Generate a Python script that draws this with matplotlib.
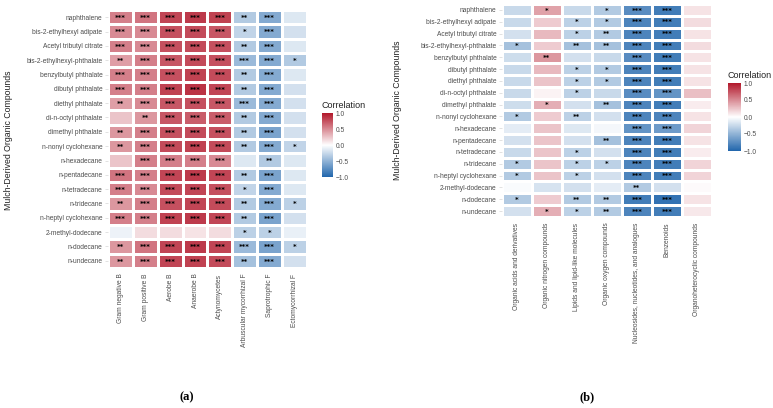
import numpy as np
import matplotlib
matplotlib.use("Agg")
import matplotlib.pyplot as plt
from matplotlib.colors import LinearSegmentedColormap, Normalize
import matplotlib.cm as cm

compounds = ["naphthalene", "bis-2-ethylhexyl adipate", "Acetyl tributyl citrate",
             "bis-2-ethylhexyl-phthalate", "benzylbutyl phthalate", "dibutyl phthalate",
             "diethyl phthalate", "di-n-octyl phthalate", "dimethyl phthalate",
             "n-nonyl cyclohexane", "n-hexadecane", "n-pentadecane", "n-tetradecane",
             "n-tridecane", "n-heptyl cyclohexane", "2-methyl-dodecane", "n-dodecane",
             "n-undecane"]

groups_a = ["Gram negative B", "Gram positive B", "Aerobe B", "Anaerobe B",
            "Actynomycetes", "Arbuscular mycorrhizal F", "Saprotrophic F",
            "Ectomycorrhizal F"]

values_a = [
    [0.55, 0.60, 0.80, 0.85, 0.82, -0.35, -0.55, -0.15],
    [0.50, 0.50, 0.75, 0.78, 0.72, -0.28, -0.55, -0.20],
    [0.55, 0.50, 0.75, 0.78, 0.75, -0.35, -0.55, -0.15],
    [0.42, 0.55, 0.72, 0.78, 0.75, -0.45, -0.55, -0.35],
    [0.55, 0.55, 0.75, 0.82, 0.78, -0.35, -0.55, -0.15],
    [0.55, 0.55, 0.82, 0.88, 0.80, -0.35, -0.55, -0.20],
    [0.42, 0.50, 0.72, 0.75, 0.72, -0.45, -0.55, -0.20],
    [0.25, 0.45, 0.72, 0.70, 0.70, -0.35, -0.55, -0.20],
    [0.45, 0.55, 0.75, 0.78, 0.75, -0.35, -0.60, -0.20],
    [0.45, 0.55, 0.78, 0.82, 0.78, -0.35, -0.55, -0.28],
    [0.25, 0.55, 0.55, 0.55, 0.50, -0.15, -0.35, -0.15],
    [0.60, 0.55, 0.80, 0.85, 0.80, -0.35, -0.60, -0.15],
    [0.55, 0.50, 0.78, 0.80, 0.75, -0.28, -0.55, -0.15],
    [0.45, 0.55, 0.75, 0.80, 0.78, -0.35, -0.55, -0.30],
    [0.55, 0.55, 0.82, 0.85, 0.80, -0.35, -0.60, -0.20],
    [-0.08, 0.15, 0.15, 0.12, 0.15, -0.30, -0.30, -0.10],
    [0.45, 0.60, 0.80, 0.85, 0.80, -0.45, -0.60, -0.30],
    [0.45, 0.55, 0.80, 0.82, 0.78, -0.40, -0.55, -0.20],
]

stars_a = [
    ["***", "***", "***", "***", "***", "**", "***", ""],
    ["***", "***", "***", "***", "***", "*", "***", ""],
    ["***", "***", "***", "***", "***", "**", "***", ""],
    ["**", "***", "***", "***", "***", "***", "***", "*"],
    ["***", "***", "***", "***", "***", "**", "***", ""],
    ["***", "***", "***", "***", "***", "**", "***", ""],
    ["**", "***", "***", "***", "***", "***", "***", ""],
    ["", "**", "***", "***", "***", "**", "***", ""],
    ["**", "***", "***", "***", "***", "**", "***", ""],
    ["**", "***", "***", "***", "***", "**", "***", "*"],
    ["", "***", "***", "***", "***", "", "**", ""],
    ["***", "***", "***", "***", "***", "**", "***", ""],
    ["***", "***", "***", "***", "***", "*", "***", ""],
    ["**", "***", "***", "***", "***", "**", "***", "*"],
    ["***", "***", "***", "***", "***", "**", "***", ""],
    ["", "", "", "", "", "*", "*", ""],
    ["**", "***", "***", "***", "***", "***", "***", "*"],
    ["**", "***", "***", "***", "***", "**", "***", ""],
]

groups_b = ["Organic acids and derivatives", "Organic nitrogen compounds",
            "Lipids and lipid-like molecules", "Organic oxygen compounds",
            "Nucleosides, nucleotides, and analogues", "Benzenoids",
            "Organoheterocyclic compounds"]

values_b = [
    [-0.25, 0.40, -0.25, -0.35, -0.75, -0.85, 0.12],
    [-0.25, 0.22, -0.30, -0.35, -0.80, -0.85, 0.15],
    [-0.20, 0.30, -0.30, -0.35, -0.80, -0.85, 0.12],
    [-0.40, 0.22, -0.40, -0.40, -0.80, -0.85, 0.15],
    [-0.22, 0.45, -0.20, -0.25, -0.75, -0.85, 0.12],
    [-0.25, 0.30, -0.30, -0.35, -0.80, -0.85, 0.12],
    [-0.25, 0.25, -0.30, -0.35, -0.80, -0.85, 0.12],
    [-0.25, 0.05, -0.30, -0.25, -0.75, -0.70, 0.28],
    [-0.22, 0.35, -0.20, -0.40, -0.80, -0.85, 0.08],
    [-0.35, 0.22, -0.30, -0.20, -0.80, -0.80, 0.12],
    [-0.12, 0.25, -0.15, -0.05, -0.70, -0.65, 0.18],
    [-0.20, 0.25, -0.20, -0.40, -0.80, -0.85, 0.12],
    [-0.25, 0.25, -0.30, -0.20, -0.80, -0.85, 0.08],
    [-0.35, 0.25, -0.30, -0.30, -0.80, -0.85, 0.18],
    [-0.35, 0.25, -0.30, -0.20, -0.80, -0.85, 0.18],
    [-0.03, -0.18, -0.20, -0.12, -0.35, -0.20, 0.02],
    [-0.35, 0.22, -0.35, -0.35, -0.85, -0.92, 0.12],
    [-0.20, 0.35, -0.30, -0.35, -0.80, -0.85, 0.10],
]

stars_b = [
    ["", "*", "", "*", "***", "***", ""],
    ["", "", "*", "*", "***", "***", ""],
    ["", "", "*", "**", "***", "***", ""],
    ["*", "", "**", "**", "***", "***", ""],
    ["", "**", "", "", "***", "***", ""],
    ["", "", "*", "*", "***", "***", ""],
    ["", "", "*", "*", "***", "***", ""],
    ["", "", "*", "", "***", "***", ""],
    ["", "*", "", "**", "***", "***", ""],
    ["*", "", "**", "", "***", "***", ""],
    ["", "", "", "", "***", "***", ""],
    ["", "", "", "**", "***", "***", ""],
    ["", "", "*", "", "***", "***", ""],
    ["*", "", "*", "*", "***", "***", ""],
    ["*", "", "*", "", "***", "***", ""],
    ["", "", "", "", "**", "", ""],
    ["*", "", "**", "**", "***", "***", ""],
    ["", "*", "*", "**", "***", "***", ""],
]

plt.rcParams['font.family'] = ['Liberation Sans', 'DejaVu Sans']

W, H = 773, 408
fig = plt.figure(figsize=(W / 100, H / 100), dpi=100)
fig.patch.set_facecolor("white")

cmap = LinearSegmentedColormap.from_list("rb", ["#2166AC", "#FFFFFF", "#B2182B"])
norm = Normalize(-1, 1)


def px_axes(x0, y0, x1, y1):
    return fig.add_axes([x0 / W, 1 - y1 / H, (x1 - x0) / W, (y1 - y0) / H])


def heat(box, vals, stars, cols, rows, star_fs):
    ax = px_axes(*box)
    v = np.array(vals)
    ax.pcolormesh(np.arange(v.shape[1] + 1), np.arange(v.shape[0] + 1), v,
                  cmap=cmap, norm=norm, edgecolors="white", linewidth=0.9)
    ax.set_xlim(0, v.shape[1])
    ax.set_ylim(v.shape[0], 0)
    for i, row in enumerate(stars):
        for j, s in enumerate(row):
            if s:
                ax.text(j + 0.5, i + 0.55, s, ha="center", va="center",
                        fontsize=star_fs, color="black", fontweight="bold",
                        family="DejaVu Sans")
    ax.set_xticks(np.arange(v.shape[1]) + 0.5)
    ax.set_xticklabels(cols, rotation=90, fontsize=4.8, color="#4D4D4D")
    ax.set_yticks(np.arange(v.shape[0]) + 0.5)
    ax.set_yticklabels(rows, fontsize=4.8, color="#4D4D4D")
    ax.tick_params(axis="both", length=2, width=0.4, color="#CCCCCC", pad=2)
    ax.tick_params(axis="x", length=0, pad=4)
    for sp in ax.spines.values():
        sp.set_visible(False)
    return ax


def cbar(box, title_y):
    cax = px_axes(*box)
    cb = fig.colorbar(cm.ScalarMappable(norm=norm, cmap=cmap), cax=cax)
    cb.outline.set_visible(False)
    cb.set_ticks([-1, -0.5, 0, 0.5, 1])
    cb.set_ticklabels(["\u22121.0", "\u22120.5", "0.0", "0.5", "1.0"])
    cax.tick_params(length=0, labelsize=4.8, labelcolor="#4D4D4D", pad=2)
    fig.text(box[0] / W, 1 - title_y / H, "Correlation", fontsize=6.5,
             ha="left", va="bottom", color="#222222")


heat((108, 10, 307, 268), values_a, stars_a, groups_a, compounds, 5.0)
heat((502, 4, 712, 217), values_b, stars_b, groups_b, compounds, 5.0)

cbar((322, 113, 333, 177), 110)
cbar((728, 83, 741, 151), 80)

fig.text(9 / W, 1 - 140 / H, "Mulch-Derived Organic Compounds", rotation=90,
         ha="center", va="center", fontsize=6.3, color="#222222")
fig.text(398 / W, 1 - 110 / H, "Mulch-Derived Organic Compounds", rotation=90,
         ha="center", va="center", fontsize=6.3, color="#222222")

fig.text(187 / W, 1 - 397 / H, "(a)", ha="center", va="center", fontsize=9,
         family="Liberation Serif", fontweight="bold")
fig.text(587 / W, 1 - 397 / H, "(b)", ha="center", va="center", fontsize=9,
         family="Liberation Serif", fontweight="bold")

fig.savefig("out.png", dpi=100)
